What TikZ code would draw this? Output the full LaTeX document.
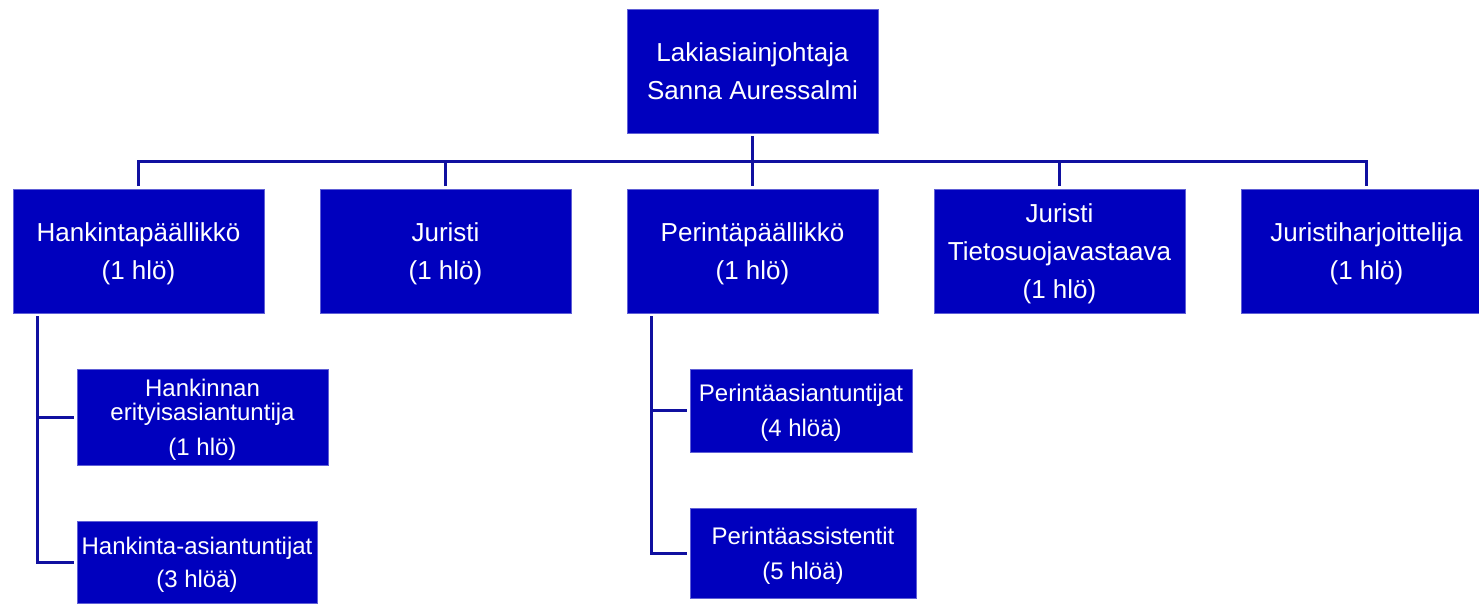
\documentclass[tikz,border=0pt]{standalone}
\usepackage{fontspec}
\setmainfont{Liberation Sans}
\definecolor{boxblue}{RGB}{0,0,190}
\definecolor{edgeblue}{RGB}{96,96,214}
\definecolor{lineblue}{RGB}{16,16,160}
\tikzset{
  unit/.style={draw=edgeblue, line width=0.8pt, fill=boxblue, text=white, align=center,
    inner sep=0pt, outer sep=3pt, text depth=0pt, font=\fontsize{26}{38}\selectfont},
  subunit/.style={unit, font=\fontsize{24}{35}\selectfont},
  conn/.style={draw=lineblue, line width=3pt}
}
\begin{document}
\begin{tikzpicture}[x=1pt,y=-1pt]
\useasboundingbox (0,0) rectangle (1479,603);
\clip (0,0) rectangle (1479,603);

\node[unit, minimum width=251pt, minimum height=124pt] (lead) at (752.5,71) {Lakiasiainjohtaja\\Sanna Auressalmi}; % johtaja

\node[unit, minimum width=251pt, minimum height=124pt] (hank) at (138.5,251) {Hankintapäällikkö\\(1 hlö)};
\node[unit, minimum width=251pt, minimum height=124pt] (jur)  at (445.5,251) {Juristi\\(1 hlö)};
\node[unit, minimum width=251pt, minimum height=124pt] (per)  at (752.5,251) {Perintäpäällikkö\\(1 hlö)};
\node[unit, minimum width=251pt, minimum height=124pt] (tiet) at (1059.5,251) {Juristi\\Tietosuojavastaava\\(1 hlö)};
\node[unit, minimum width=251pt, minimum height=124pt] (harj) at (1366.5,251) {Juristiharjoittelija\\(1 hlö)};

\node[subunit, minimum width=251pt, minimum height=96pt] (hesa) at (202.5,417) {Hankinnan\\[-11pt]erityisasiantuntija\\(1 hlö)};
\node[subunit, minimum width=240pt, minimum height=82pt] (hasi) at (197,562) {Hankinta-asiantuntijat\\[-2pt](3 hlöä)};
\node[subunit, minimum width=222pt, minimum height=83pt] (pasi) at (801,410.5) {Perintäasiantuntijat\\(4 hlöä)};
\node[subunit, minimum width=226pt, minimum height=90pt] (pass) at (803,553) {Perintäassistentit\\(5 hlöä)};

\coordinate (bus) at (0,161);   % vaakaviiva
\coordinate (hrail) at (37.5,0); % hankinnan pystyviiva
\coordinate (prail) at (651,0);  % perinnän pystyviiva

\draw[conn] (lead.south) -- (per.north);
\draw[conn] (hank.north) -- (hank.north |- bus) -- (harj.north |- bus) -- (harj.north);
\foreach \n in {jur,tiet}
  \draw[conn] (\n.north) -- (\n.north |- bus);

\draw[conn] (hrail |- hank.south) -- (hrail |- hasi.west) -- (hasi.west);
\draw[conn] (hrail |- hesa.west) -- (hesa.west);
\draw[conn] (prail |- per.south) -- (prail |- pass.west) -- (pass.west);
\draw[conn] (prail |- pasi.west) -- (pasi.west);

\end{tikzpicture}
\end{document}
